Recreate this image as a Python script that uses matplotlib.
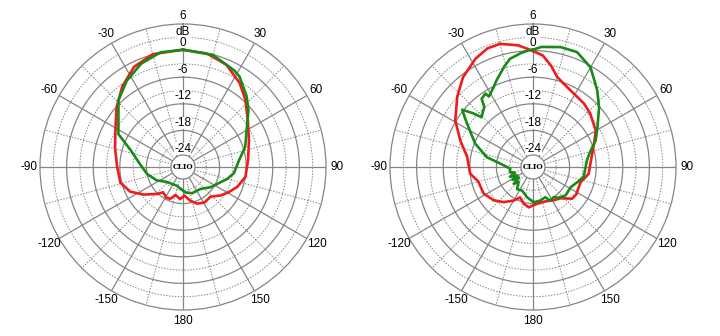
import numpy as np
import matplotlib.pyplot as plt
from matplotlib.patches import Circle

plt.rcParams['font.family'] = ['Liberation Sans', 'DejaVu Sans']

# polar response, angle in degrees (clockwise from front), level in dB
left_red_deg = [0, 12, 23, 34, 43, 54, 68, 84, 99, 110, 119, 127, 137, 149, 159, 168,
                177, 185, 195, 202, 209, 218, 224, 235, 245, 256, 270, 286, 301, 312,
                323, 334, 345]
left_red_db = [0.2, -0.1, -1.2, -3.4, -5.6, -8.2, -10.2, -11.5, -12.0, -13.2, -14.5,
               -15.6, -17.1, -16.9, -17.4, -18.5, -19.8, -19.0, -19.7, -18.5, -18.4,
               -19.0, -17.8, -15.4, -13.1, -11.7, -11.4, -10.3, -8.5, -6.1, -3.5,
               -1.1, 0.1]

left_green_deg = [0, 15, 28, 32, 42, 49, 72, 83, 97, 105, 112, 126, 141, 161, 175,
                  198, 227, 243, 259, 274, 288, 297, 316, 327, 338, 349]
left_green_db = [0.2, -0.1, -1.6, -2.2, -4.8, -6.7, -11.5, -13.5, -14.7, -15.9, -17.1,
                 -18.5, -19.9, -20.0, -20.5, -21.8, -21.3, -19.6, -18.0, -16.5, -13.8,
                 -9.9, -5.3, -3.0, -1.1, 0.1]

right_red_deg = [0, 5, 10, 15, 20, 29, 39, 47, 60, 69, 87, 97, 108, 122, 129, 139,
                 148, 160, 174, 186, 194, 203, 210, 220, 230, 242, 255, 264, 279,
                 290, 301, 313, 322, 332, 339, 345, 353, 357]
right_red_db = [-0.1, -1.0, -3.0, -5.2, -6.2, -7.3, -7.9, -8.6, -9.9, -11.5, -13.3,
                -13.6, -15.0, -14.7, -14.9, -16.9, -17.4, -18.0, -17.9, -17.1, -17.7,
                -18.8, -17.5, -15.9, -14.6, -13.6, -13.5, -12.0, -11.2, -8.8, -5.8,
                -2.9, -0.6, 1.4, 2.4, 2.5, 1.4, 0.5]

right_green_deg = [0, 4, 13, 21, 30, 40, 48, 58, 67, 75, 83, 101, 109, 118, 131, 141,
                   145, 153, 158, 168, 179, 191, 205, 216, 224, 229, 233, 238, 242,
                   247, 252, 258, 266, 276, 282, 292, 300, 305, 309, 312, 314, 321,
                   323, 327, 328, 334, 337, 344, 348, 354, 358]
right_green_db = [0.2, 0.9, 1.5, 1.5, -0.3, -3.7, -6.2, -9.1, -10.9, -12.9, -14.0,
                  -14.6, -15.7, -16.6, -16.5, -17.3, -18.0, -17.7, -18.9, -18.5, -18.3,
                  -19.3, -20.4, -20.1, -21.6, -20.5, -22.3, -20.8, -22.2, -20.6, -22.0,
                  -20.9, -21.1, -18.8, -15.6, -12.2, -9.8, -7.7, -5.7, -8.2, -10.1,
                  -8.8, -7.0, -6.5, -7.5, -6.1, -5.1, -2.7, -1.3, -0.4, 0.1]

R_MIN, R_MAX = -26.25, 6
solid_rings = [-24, -18, -12, -6, 0]
dotted_rings = [-21, -15, -9, -3, 3]
ring_labels = ['-24', '-18', '-12', '-6', '0', '6']
angle_ticks = [30, 60, 90, 120, 150, 180, 210, 240, 270, 300, 330]
angle_labels = ['30', '60', '90', '120', '150', '180', '-150', '-120', '-90', '-60', '-30']

RED = '#ee1c1c'
GREEN = '#178a17'
GRID = '#858585'


def closed(deg, db):
    th = np.deg2rad(np.append(deg, deg[0]))
    return th, np.append(db, db[0])


def polar_chart(ax, red, green):
    ax.set_theta_zero_location('N')
    ax.set_theta_direction(-1)
    ax.set_ylim(R_MIN, R_MAX)
    ax.set_xticks([])
    ax.set_yticks([])
    ax.grid(False)
    ax.spines['polar'].set_color(GRID)
    ax.spines['polar'].set_linewidth(0.9)

    full = np.linspace(0, 2 * np.pi, 361)
    for r in solid_rings:
        ax.plot(full, np.full_like(full, r), color=GRID, lw=0.9, zorder=1)
    for r in dotted_rings:
        ax.plot(full, np.full_like(full, r), color=GRID, lw=0.7,
                ls=(0, (1.5, 1.5)), zorder=1)
    for a in range(0, 360, 15):
        t = np.deg2rad(a)
        if a % 30 == 0:
            ax.plot([t, t], [R_MIN, R_MAX], color=GRID, lw=0.9, zorder=1)
        else:
            ax.plot([t, t], [R_MIN, R_MAX], color=GRID, lw=0.7,
                    ls=(0, (1.5, 1.5)), zorder=1)

    # level labels along the front axis (under the curves)
    ax.text(0, 4.2, 'dB', ha='center', va='center', fontsize=8.5, zorder=2,
            bbox=dict(boxstyle='square,pad=0.0', fc='white', ec='none'))
    for lab, r in zip(ring_labels, solid_rings + [R_MAX]):
        ax.text(0, r + 1.7, lab, ha='center', va='center', fontsize=8.5, zorder=2.5,
                clip_on=False,
                bbox=dict(boxstyle='square,pad=0.0', fc='white', ec='none'))

    th, r = closed(*red)
    ax.plot(th, r, color=RED, lw=1.9, zorder=3)
    th, r = closed(*green)
    ax.plot(th, r, color=GREEN, lw=1.9, zorder=4)

    # centre plate
    ax.add_patch(Circle((0.5, 0.5), 0.042, transform=ax.transAxes,
                        fc='white', ec=GRID, lw=0.9, zorder=6))
    ax.text(0.5, 0.5, 'CLIO', transform=ax.transAxes, ha='center', va='center',
            fontsize=5.3, fontweight='bold', family='DejaVu Serif', zorder=7)

    for a, lab in zip(angle_ticks, angle_labels):
        ax.text(np.deg2rad(a), 8.5, lab, ha='center', va='center', fontsize=8.5,
                clip_on=False)


fig = plt.figure(figsize=(7.2, 3.36), dpi=100)
ax1 = fig.add_axes([40 / 720, 26 / 336, 286 / 720, 286 / 336], projection='polar')
ax2 = fig.add_axes([390 / 720, 26 / 336, 286 / 720, 286 / 336], projection='polar')

polar_chart(ax1, (left_red_deg, left_red_db), (left_green_deg, left_green_db))
polar_chart(ax2, (right_red_deg, right_red_db), (right_green_deg, right_green_db))

fig.savefig('out.png', dpi=100)
